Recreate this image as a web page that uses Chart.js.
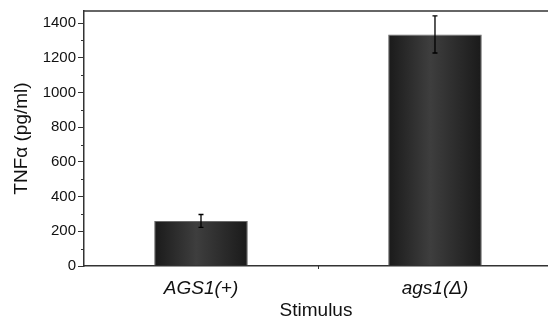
<!DOCTYPE html>
<html>
<head>
<meta charset="utf-8">
<script src="https://cdn.jsdelivr.net/npm/chart.js@4"></script>
<style>
  html, body { margin: 0; padding: 0; background: #fff; }
  #wrap { width: 548px; height: 320px; }
</style>
</head>
<body>
<div id="wrap"><canvas id="tnfChart"></canvas></div>
<script>
// data
const categories = ['AGS1(+)', 'ags1(\u0394)'];
const categoryPositions = [1, 2];
const tnfMeans = [260, 1335];
const tnfErrors = [37, 107];
const minorTicks = [100, 300, 500, 700, 900, 1100, 1300];

const axisColor = '#333';
const textColor = '#111';

// bar face: dark edges, lighter centre
function barGradient(context) {
    const chart = context.chart;
    const xs = chart.scales.x;
    if (!xs || context.dataIndex === undefined) return '#2a2a2a';
    const c = xs.getPixelForValue(categoryPositions[context.dataIndex]);
    const half = 0.2 * (xs.getPixelForValue(1) - xs.getPixelForValue(0));
    if (!isFinite(c) || !isFinite(half) || half <= 0) return '#2a2a2a';
    const g = chart.ctx.createLinearGradient(c - half, 0, c + half, 0);
    g.addColorStop(0, '#1a1a1a');
    g.addColorStop(0.45, '#3e3e3e');
    g.addColorStop(1, '#1a1a1a');
    return g;
}

const extrasPlugin = {
    id: 'extras',
    afterDatasetsDraw(chart) {
        const ctx = chart.ctx;
        const xs = chart.scales.x, ys = chart.scales.y;
        const area = chart.chartArea;
        ctx.save();
        // error bars
        ctx.strokeStyle = '#000';
        ctx.lineWidth = 1.3;
        tnfMeans.forEach((m, i) => {
            const x = xs.getPixelForValue(categoryPositions[i]);
            const yTop = ys.getPixelForValue(m + tnfErrors[i]);
            const yBot = ys.getPixelForValue(m - tnfErrors[i]);
            ctx.beginPath();
            ctx.moveTo(x, yTop); ctx.lineTo(x, yBot);
            ctx.moveTo(x - 2.5, yTop); ctx.lineTo(x + 2.5, yTop);
            ctx.moveTo(x - 2.5, yBot); ctx.lineTo(x + 2.5, yBot);
            ctx.stroke();
        });
        // top frame line
        ctx.strokeStyle = axisColor;
        ctx.lineWidth = 1.5;
        ctx.beginPath();
        ctx.moveTo(area.left, area.top);
        ctx.lineTo(area.right, area.top);
        ctx.stroke();
        // minor y ticks
        ctx.lineWidth = 1;
        ctx.beginPath();
        minorTicks.forEach(v => {
            const y = Math.round(ys.getPixelForValue(v)) + 0.5;
            ctx.moveTo(area.left - 3, y);
            ctx.lineTo(area.left, y);
        });
        // x tick between the categories
        const xm = Math.round(xs.getPixelForValue(1.5)) + 0.5;
        ctx.moveTo(xm, area.bottom);
        ctx.lineTo(xm, area.bottom + 3);
        ctx.stroke();
        ctx.restore();
    }
};

const ctx = document.getElementById('tnfChart').getContext('2d');
const tnfChart = new Chart(ctx, {
    type: 'bar',
    data: {
        datasets: [{
            data: tnfMeans.map((v, i) => ({ x: categoryPositions[i], y: v })),
            backgroundColor: barGradient,
            borderColor: '#6a6a6a',
            borderWidth: 1,
            barPercentage: 0.4,
            categoryPercentage: 1
        }]
    },
    options: {
        responsive: true,
        maintainAspectRatio: false,
        animation: false,
        layout: { padding: { top: 9, right: 0, left: 0, bottom: 0 } },
        plugins: {
            legend: { display: false },
            tooltip: { enabled: false }
        },
        scales: {
            x: {
                type: 'linear',
                offset: false,
                min: 0.5,
                max: 2.483,
                afterBuildTicks: axis => {
                    axis.ticks = categoryPositions.map(v => ({ value: v }));
                },
                afterFit: axis => { axis.height = 54; },
                grid: { display: true, offset: false, drawOnChartArea: false, drawTicks: false },
                border: { display: true, color: axisColor, width: 1.5 },
                ticks: {
                    padding: 11,
                    color: textColor,
                    maxRotation: 0,
                    font: { family: 'Liberation Sans, Arial', size: 19, style: 'italic' },
                    callback: v => categories[categoryPositions.indexOf(v)] || ''
                },
                title: {
                    display: true,
                    text: 'Stimulus',
                    color: textColor,
                    padding: { top: 0, bottom: -2 },
                    font: { family: 'Liberation Sans, Arial', size: 19 }
                }
            },
            y: {
                min: 0,
                max: 1470,
                afterFit: axis => { axis.width = 84; },
                grid: { drawOnChartArea: false, drawTicks: true, tickLength: 6, color: axisColor },
                border: { display: true, color: axisColor, width: 1.5 },
                ticks: {
                    stepSize: 200,
                    includeBounds: false,
                    padding: 2,
                    color: textColor,
                    font: { family: 'Liberation Sans, Arial', size: 15 },
                    callback: v => String(v)
                },
                title: {
                    display: true,
                    text: 'TNF\u03b1 (pg/ml)',
                    color: textColor,
                    padding: { top: 10, bottom: 0 },
                    font: { family: 'Liberation Sans, Arial', size: 19 }
                }
            }
        }
    },
    plugins: [extrasPlugin]
});
// re-run once the scales exist so the bar gradients get their real extent
tnfChart.update();
</script>
</body>
</html>
